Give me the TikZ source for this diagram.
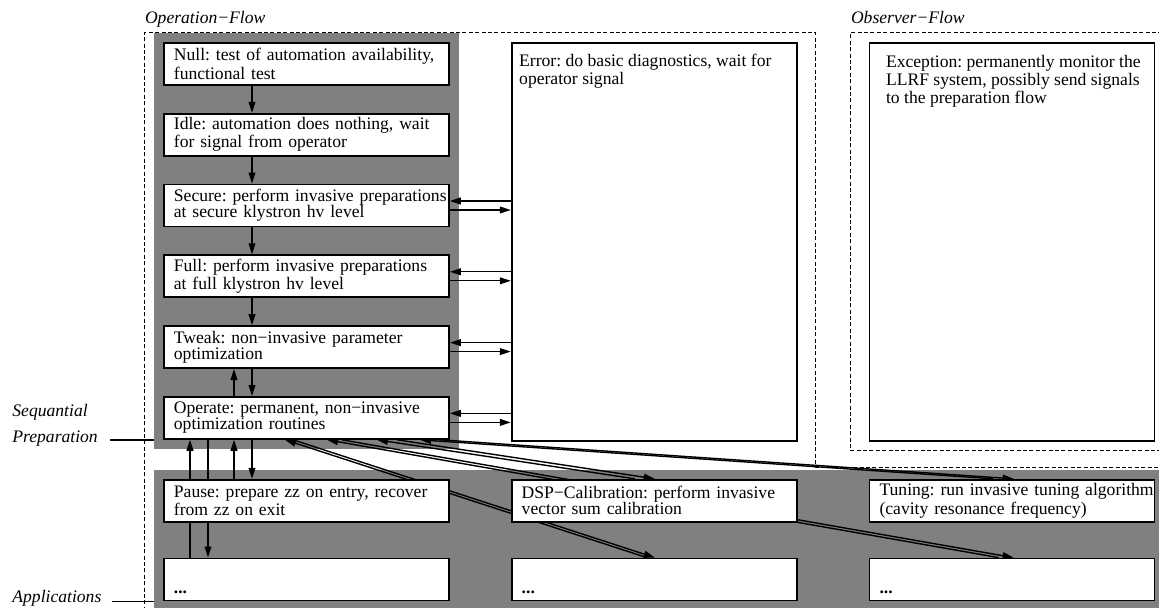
\documentclass[tikz,border=0pt]{standalone}
\usepackage{fontspec}
\setmainfont{Liberation Serif}
\usepackage{tikz}
\usetikzlibrary{arrows.meta,positioning,fit,backgrounds,calc}
\pgfdeclarelayer{back}
\pgfsetlayers{back,background,main}
\frenchspacing

\begin{document}
\begin{tikzpicture}[
  x=0.5pt, y=-0.5pt,
  font=\fontsize{8.8}{8}\selectfont, >={Triangle[length=5.5pt,width=3.4pt]},
  box/.style={draw,line width=0.9pt,fill=white,text width=150pt,inner xsep=-3.75pt,inner ysep=1pt,
    minimum height=21pt,align=left,execute at begin node={\leftskip=8.75pt\relax}},
  region/.style={fill=black!50,inner sep=4.5pt},
  flow/.style={line width=0.65pt,dash pattern=on 2pt off 1.2pt},
  lbl/.style={font=\fontsize{8.8}{13}\selectfont\itshape,align=left,inner sep=0pt},
  txt/.style={align=left,inner sep=0pt},
  arr/.style={->,line width=0.7pt}]
\useasboundingbox (0,0) rectangle (1159,608);
% sequential preparation
\node[box,anchor=north west] (null) at (163,42) {Null: test of automation availability,\\functional test};
\node[box,below=13.5pt of null] (idle) {Idle: automation does nothing, wait\\for signal from operator};
\node[box,below=13.5pt of idle] (secure) {Secure: perform invasive preparations\\at secure klystron hv level};
\node[box,below=13.5pt of secure] (full) {Full: perform invasive preparations\\at full klystron hv level};
\node[box,below=13.5pt of full] (tweak) {Tweak: non−invasive parameter\\optimization};
\node[box,below=13.5pt of tweak] (operate) {Operate: permanent, non−invasive\\optimization routines};
% applications
\node[box,below=19.5pt of operate] (pause) {Pause: prepare zz on entry, recover\\from zz on exit};
\node[box,below=17.5pt of pause] (dotsA) {\mbox{}\\[6pt]\textbf{...}};
\node[box,right=30.5pt of pause] (dsp) {DSP−Calibration: perform invasive\\vector sum calibration};
\node[box,right=30.5pt of dotsA] (dotsB) {\mbox{}\\[6pt]\textbf{...}};
\node[box,right=35.5pt of dsp] (tune) {Tuning: run invasive tuning algorithm\\(cavity resonance frequency)};
\node[box,right=35.5pt of dotsB] (dotsC) {\mbox{}\\[6pt]\textbf{...}};
% error and exception
\node[box,anchor=north west,minimum height=199pt] (err) at (null.north -| dsp.west) {};
\node[box,anchor=north west,minimum height=199pt] (exc) at (null.north -| tune.west) {};
\node[txt,anchor=north west] (errtxt) at ([shift={(4pt,-6pt)}]err.north west) {Error: do basic diagnostics, wait for\\operator signal};
\node[txt,anchor=north west] (exctxt) at ([shift={(8.5pt,-6.5pt)}]exc.north west) {Exception: permanently monitor the\\LLRF system, possibly send signals\\to the preparation flow};
% regions and flows
\begin{pgfonlayer}{back}
\node[region,fit=(null)(operate)] (seq) {};
\node[region,fit=(pause)(dotsC)] (apps) {};
\draw[flow] ([xshift=-4.5pt]apps.south west) -- ([xshift=-4.5pt]seq.north west)
  -- ([xshift=9pt]seq.north -| err.east) -- ([xshift=9pt,yshift=1pt]apps.north -| err.east)
  -- ([xshift=2pt,yshift=1pt]apps.north east);
\draw[flow] ([xshift=2pt]seq.north -| apps.east) -- ([xshift=-9pt]seq.north -| exc.west)
  -- ([xshift=-9pt,yshift=-4.5pt]exc.south west) -- ([xshift=2pt,yshift=-4.5pt]exc.south -| apps.east);
\end{pgfonlayer}
\node[lbl,anchor=base west] (opflow) at ([shift={(-4.5pt,4.5pt)}]seq.north west) {Operation−Flow};
\node[lbl,anchor=base west] (obsflow) at ([shift={(-9pt,4.5pt)}]seq.north -| exc.west) {Observer−Flow};
\node[lbl,anchor=north west] (lblseq) at (12,404) {Sequantial\\Preparation};
\node[lbl,anchor=base west] (lblapp) at (12,602) {Applications};
\draw[line width=0.7pt] ([xshift=6pt]lblseq.east |- operate.south) -- (operate.south -| seq.west);
\draw[line width=0.7pt] ([xshift=5pt]lblapp.east |- dotsA.south) -- (dotsA.south -| apps.west);
% transitions
\begin{scope}[on background layer]
\draw[arr] ([xshift=44.5pt]null.south west) -- ([xshift=44.5pt]idle.north west);
\draw[arr] ([xshift=44.5pt]idle.south west) -- ([xshift=44.5pt]secure.north west);
\draw[arr] ([xshift=44.5pt]secure.south west) -- ([xshift=44.5pt]full.north west);
\draw[arr] ([xshift=44.5pt]full.south west) -- ([xshift=44.5pt]tweak.north west);
\draw[arr] ([xshift=44.5pt]tweak.south west) -- ([xshift=44.5pt]operate.north west);
\draw[arr] ([xshift=35.5pt]operate.north west) -- ([xshift=35.5pt]tweak.south west);
\draw[arr] ([xshift=44.5pt]operate.south west) -- ([xshift=44.5pt]pause.north west);
\draw[arr] ([xshift=35.5pt]pause.north west) -- ([xshift=35.5pt]operate.south west);
\draw[arr] ([xshift=22.5pt]operate.south west) -- ([xshift=22.5pt]dotsA.north west);
\draw[arr] ([xshift=13.5pt]dotsA.north west) -- ([xshift=13.5pt]operate.south west);
% to and from the error state
\draw[arr] ([yshift=2.25pt]secure.east -| err.west) -- ([yshift=2.25pt]secure.east);
\draw[arr] ([yshift=-2.25pt]secure.east) -- ([yshift=-2.25pt]secure.east -| err.west);
\draw[arr] ([yshift=2.25pt]full.east -| err.west) -- ([yshift=2.25pt]full.east);
\draw[arr] ([yshift=-2.25pt]full.east) -- ([yshift=-2.25pt]full.east -| err.west);
\draw[arr] ([yshift=2.25pt]tweak.east -| err.west) -- ([yshift=2.25pt]tweak.east);
\draw[arr] ([yshift=-2.25pt]tweak.east) -- ([yshift=-2.25pt]tweak.east -| err.west);
\draw[arr] ([yshift=2.25pt]operate.east -| err.west) -- ([yshift=2.25pt]operate.east);
\draw[arr] ([yshift=-2.25pt]operate.east) -- ([yshift=-2.25pt]operate.east -| err.west);
% operate to the applications
\draw[arr] ([xshift=68pt]dotsB.north west) -- ([xshift=61pt]operate.south west);
\draw[arr] ([xshift=65pt]operate.south west) -- ([xshift=72pt]dotsB.north west);
\draw[arr] ([xshift=65pt]dotsC.north west) -- ([xshift=82pt]operate.south west);
\draw[arr] ([xshift=89.5pt]operate.south west) -- ([xshift=72.5pt]dotsC.north west);
\draw[arr] ([xshift=62pt]dsp.north west) -- ([xshift=107pt]operate.south west);
\draw[arr] ([xshift=117pt]operate.south west) -- ([xshift=72pt]dsp.north west);
\draw[arr] ([xshift=62.5pt]tune.north west) -- ([xshift=128.5pt]operate.south west);
\draw[arr] ([xshift=138.5pt]operate.south west) -- ([xshift=72.5pt]tune.north west);
\end{scope}
\end{tikzpicture}
\end{document}
